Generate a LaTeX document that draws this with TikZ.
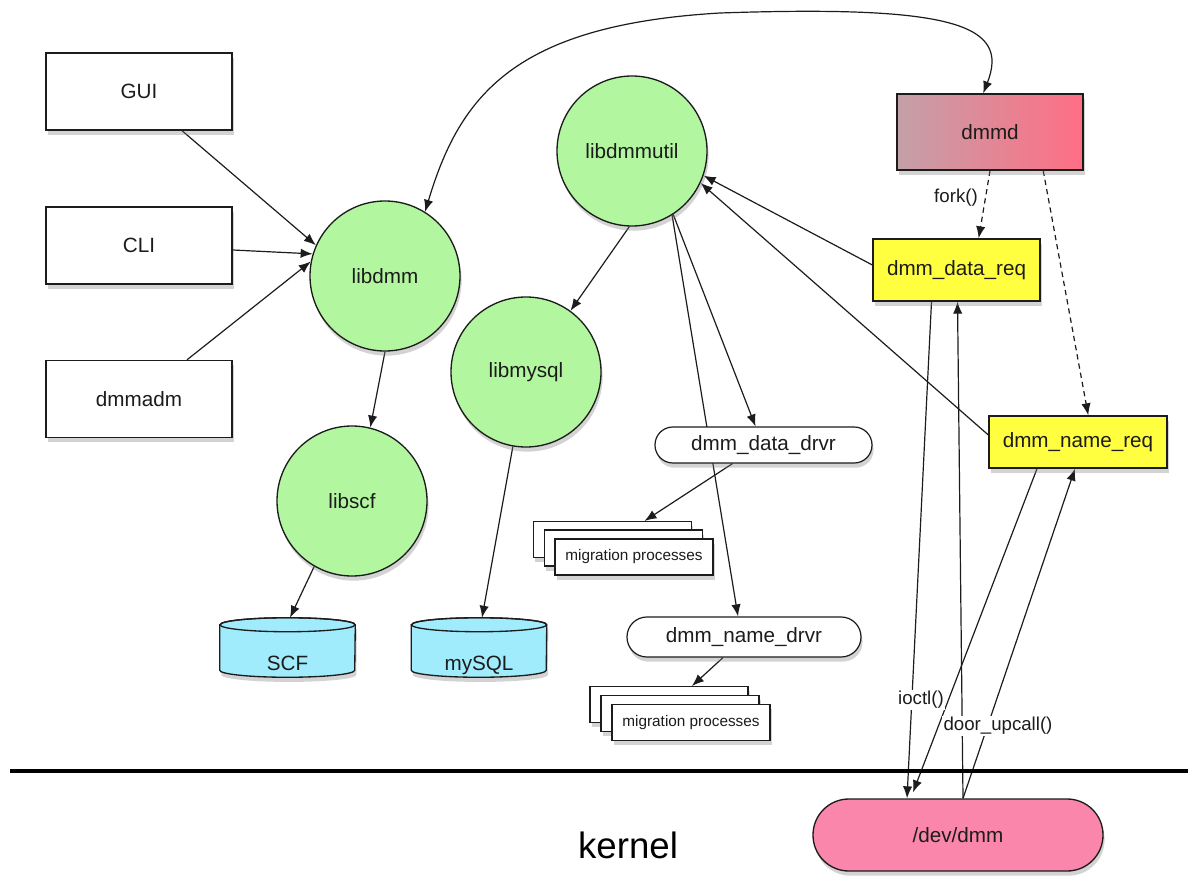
\documentclass[tikz,border=0pt]{standalone}
\usepackage{fontspec}
\setmainfont{Liberation Sans}
\usetikzlibrary{arrows.meta,shadows,calc}
\pgfdeclarelayer{background}
\pgfsetlayers{background,main}

\definecolor{ink}{RGB}{28,28,28}
\definecolor{libgreen}{RGB}{178,246,160}
\definecolor{reqyellow}{RGB}{255,255,64}
\definecolor{dbcyan}{RGB}{160,236,252}
\definecolor{devpink}{RGB}{250,134,172}
\definecolor{dmmdleft}{RGB}{196,160,168}
\definecolor{dmmdright}{RGB}{255,110,132}

% cylinder body drawn around an (invisible) node #1 of width 135 units
\newcommand\dbbody[1]{%
  \draw[ink, line width=1pt, fill=dbcyan, softshadow]
    ($(#1.north west)+(0,7)$) -- ($(#1.south west)+(0,-7)$)
    arc[start angle=180, end angle=0, x radius=67.5, y radius=7]
    -- ($(#1.north east)+(0,7)$)
    arc[start angle=0, end angle=-180, x radius=67.5, y radius=7] -- cycle;
  \draw[ink, line width=1pt] ($(#1.north)+(0,7)$) ellipse[x radius=67.5, y radius=7];
}

\begin{document}
\begin{tikzpicture}[x=0.75pt, y=-0.75pt,
  every node/.style={font=\fontsize{15.5}{18}\selectfont, text=ink},
  softshadow/.style={drop shadow={shadow xshift=1.2pt, shadow yshift=-3.5pt, opacity=0.35}},
  boxnode/.style={rectangle, draw=ink, line width=1pt, fill=white, softshadow,
    minimum width=139.5pt, minimum height=57.75pt, inner sep=0pt},
  libnode/.style={circle, draw=ink, line width=1pt, fill=libgreen, softshadow,
    minimum size=112.5pt, inner sep=0pt},
  reqnode/.style={rectangle, draw=ink, line width=1pt, fill=reqyellow, softshadow, inner sep=0pt},
  drvnode/.style={rectangle, draw=ink, line width=0.9pt, fill=white, softshadow, inner sep=0pt},
  procnode/.style={rectangle, draw=ink, line width=0.8pt, fill=white, softshadow,
    minimum width=118.5pt, minimum height=27pt, inner sep=0pt,
    font=\fontsize{11.5}{13}\selectfont},
  dbnode/.style={rectangle, minimum width=101.25pt, minimum height=44.25pt, inner sep=0pt},
  arrowline/.style={draw=ink, line width=0.9pt, -{Latex[length=9pt,width=7pt]}},
  dashline/.style={arrowline, dash pattern=on 4pt off 3pt},
  edgelabel/.style={font=\fontsize{14}{16}\selectfont, fill=white, inner sep=1pt},
]
\useasboundingbox (0,0) rectangle (1188,877);

% user-space clients
\node[boxnode] (gui) at (139,91.5) {GUI};
\node[boxnode] (cli) at (139,245.5) {CLI};
\node[boxnode] (adm) at (139,399) {dmmadm};

% libraries
\node[libnode] (libdmm) at (385,276) {libdmm};
\node[libnode] (libscf) at (352,501) {libscf};
\node[libnode] (libmysql) at (526,372) {libmysql};
\node[libnode] (libutil) at (632,151) {libdmmutil};

% repositories
\node[dbnode] (scf) at (287.5,647.5) {};
\dbbody{scf}
\node[anchor=base] (scftxt) at ($(scf.center)+(0,23)$) {SCF};
\node[dbnode] (mysql) at (479,647.5) {};
\dbbody{mysql}
\node[anchor=base] (mysqltxt) at ($(mysql.center)+(0,23)$) {mySQL};

% drivers
\node[drvnode, minimum width=162.75pt, minimum height=27pt, rounded corners=13.4pt] (ddrv) at (763.5,445) {dmm\_data\_drvr};
\node[drvnode, minimum width=175.5pt, minimum height=30pt, rounded corners=14.9pt] (ndrv) at (744,637) {dmm\_name\_drvr};

% migration process stacks
\node[procnode] (m1a) at (612.5,539.5) {};
\node[procnode] (m1b) at (623.5,548) {};
\node[procnode] (m1c) at (634,557) {migration processes};
\node[procnode] (m2a) at (669,704.5) {};
\node[procnode] (m2b) at (680,713.5) {};
\node[procnode] (m2c) at (691,722.5) {migration processes};

% daemon and request handlers
\node[rectangle, draw=ink, line width=1pt, left color=dmmdleft, right color=dmmdright, softshadow,
  minimum width=139.5pt, minimum height=57pt, inner sep=0pt] (dmmd) at (990,132) {dmmd};
\node[reqnode, minimum width=125.25pt, minimum height=46.5pt] (dreq) at (956.5,270) {dmm\_data\_req};
\node[reqnode, minimum width=133.5pt, minimum height=39pt] (nreq) at (1078,442) {dmm\_name\_req};

% kernel device
\node[rectangle, draw=ink, line width=1pt, fill=devpink, softshadow, rounded corners=26.9pt,
  minimum width=217.5pt, minimum height=54pt, inner sep=0pt] (dev) at (958,835) {/dev/dmm};

% user / kernel boundary
\draw[black, line width=3pt] (10,771) -- (1188,771);
\node[font=\fontsize{27.5}{30}\selectfont, text=black] (kernel) at (628,845) {kernel};

\begin{pgfonlayer}{background}
  \draw[arrowline] ($(gui.south)+(43,0)$) -- (libdmm.156);
  \draw[arrowline] ($(cli.east)+(0,4.5)$) -- (libdmm.163);
  \draw[arrowline] ($(adm.north)+(48,0)$) -- (libdmm.169);
  \draw[arrowline] (libdmm.-90) -- (libscf.76);
  \draw[arrowline] (libscf.-120) -- ($(scf.north)+(2.5,0)$);
  \draw[arrowline] (libmysql.-100) -- ($(mysql.north)+(3,0)$);
  \draw[arrowline] (libutil.-92) -- (libmysql.54);
  \draw[arrowline] (libutil.-57) -- ($(ddrv.north)+(-8,0)$);
  \draw[arrowline] (libutil.-58) -- ($(ndrv.north)+(-6,0)$);
  \draw[arrowline] ($(ddrv.south)+(-31,0)$) -- ($(m1a.north)+(32,0)$);
  \draw[arrowline] ($(ndrv.south)+(-21,0)$) -- ($(m2a.north)+(23,0)$);
  \draw[arrowline] ($(dreq.west)+(0,-5)$) -- (libutil.-19);
  \draw[arrowline] ($(nreq.west)+(0,-7)$) -- (libutil.-25);
  \draw[dashline] (dmmd.south) -- (dreq.55);
  \draw[dashline] (dmmd.-36) -- (nreq.69);
  \draw[draw=ink, line width=0.9pt, {Latex[length=9pt,width=7pt]}-{Latex[length=9pt,width=7pt]}]
    (libdmm.58) .. controls (460,95) and (515,25) .. (720,13)
    .. controls (955,5) and (1010,25) .. (dmmd.100);
  \draw[arrowline] ($(dreq.south)+(-25,0)$) -- ($(dev.north)+(-51,0)$);
  \draw[arrowline] ($(dev.north)+(5,0)$) -- ($(dreq.south)+(1,0)$);
  \draw[arrowline] ($(nreq.south)+(-41,0)$) -- ($(dev.north)+(-45,-6)$);
  \draw[arrowline] ($(dev.north)+(5,0)$) -- ($(nreq.south)+(-3,0)$);
\end{pgfonlayer}

% connector labels
\node[font=\fontsize{14}{16}\selectfont, inner sep=1pt] (forklbl) at (956,198) {fork()};
\node[edgelabel] (ioctllbl) at (921,700) {ioctl()};
\node[edgelabel] (doorlbl) at (998,726) {door\_upcall()};
\end{tikzpicture}
\end{document}
